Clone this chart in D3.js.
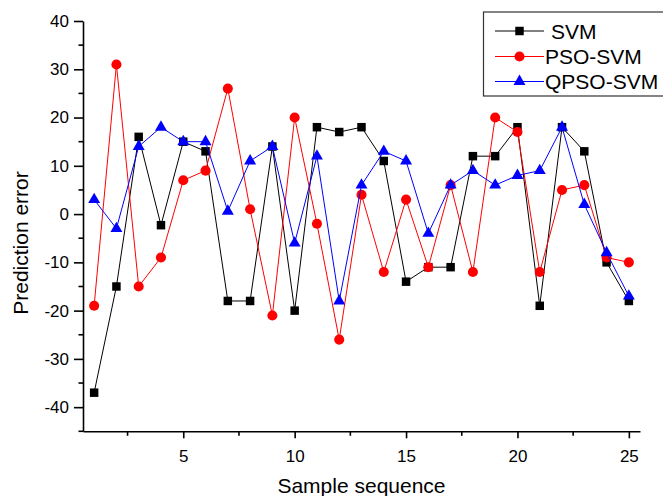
<!DOCTYPE html>
<html>
<head>
<meta charset="utf-8">
<script src="https://cdn.jsdelivr.net/npm/d3@7"></script>
<style>
    body { margin: 0; background: #fff; }
    svg { display: block; font-family: Arial, "Liberation Sans", sans-serif; }
</style>
</head>
<body>
<div id="chart"></div>
<script>
// chart values
const samples = d3.range(1, 26);
const svm = [-37, -15, 16, -2.3, 15, 13, -18, -18, 14, -20, 18, 17, 18, 11, -14, -11, -11, 12, 12, 18, -19, 18, 13, -10, -18];
const psoSvm = [-19, 31, -15, -9, 7, 9, 26, 1, -21, 20, -2, -26, 4, -12, 3, -11, 6, -12, 20, 17, -12, 5, 6, -9, -10];
const qpsoSvm = [3, -3, 14, 18, 15, 15, 0.6, 11, 14, -6, 12, -18, 6, 13, 11, -4, 6, 9, 6, 8, 9, 18, 2, -8, -17];
const yTicks = [-40, -30, -20, -10, 0, 10, 20, 30, 40];
const yMinor = [-45, -35, -25, -15, -5, 5, 15, 25, 35];
const xTicks = [5, 10, 15, 20, 25];
const xMinor = [2.5, 7.5, 12.5, 17.5, 22.5];

const series = [
    {name: "SVM", values: svm, color: "#000000", symbol: d3.symbolSquare, size: 72},
    {name: "PSO-SVM", values: psoSvm, color: "#ff0000", symbol: d3.symbolCircle, size: 80},
    {name: "QPSO-SVM", values: qpsoSvm, color: "#0000ff", symbol: d3.symbolTriangle, size: 62}
];

const width = 663;
const height = 496;

const x = d3.scaleLinear().domain([0.5, 25.5]).range([83, 640]);
const y = d3.scaleLinear().domain([-45, 40]).range([431.3, 21]);

const svg = d3.select("#chart").append("svg")
    .attr("width", width)
    .attr("height", height);

// axes: left and bottom only, ticks pointing out, plain hyphen minus
const yAxis = svg.append("g")
    .attr("transform", `translate(${x.range()[0]},0)`)
    .call(d3.axisLeft(y).tickValues(yTicks).tickFormat(d => String(d))
        .tickSize(9).tickPadding(5).tickSizeOuter(0));
yAxis.append("g")
    .selectAll("line")
    .data(yMinor)
    .join("line")
    .attr("x1", -4.5).attr("x2", 0)
    .attr("y1", d => y(d)).attr("y2", d => y(d));

const xAxis = svg.append("g")
    .attr("transform", `translate(0,${y.range()[0]})`)
    .call(d3.axisBottom(x).tickValues(xTicks).tickFormat(d => String(d))
        .tickSize(7).tickPadding(12).tickSizeOuter(0));
xAxis.append("g")
    .selectAll("line")
    .data(xMinor)
    .join("line")
    .attr("y1", 0).attr("y2", 4.5)
    .attr("x1", d => x(d)).attr("x2", d => x(d));

svg.selectAll(".domain, .tick line, g > g > line")
    .attr("stroke", "#000")
    .attr("stroke-width", 1.6);
svg.selectAll(".tick text")
    .attr("fill", "#000")
    .style("font-size", "17px");

// axis titles
svg.append("text")
    .attr("x", x(13))
    .attr("y", 493)
    .attr("text-anchor", "middle")
    .style("font-size", "21px")
    .text("Sample sequence");

svg.append("text")
    .attr("transform", "translate(28,243) rotate(-90)")
    .attr("text-anchor", "middle")
    .style("font-size", "21px")
    .text("Prediction error");

const line = d3.line()
    .x((d, i) => x(samples[i]))
    .y(d => y(d));

const plot = svg.append("g");
series.forEach(s => {
    const g = plot.append("g");
    g.append("path")
        .datum(s.values)
        .attr("fill", "none")
        .attr("stroke", s.color)
        .attr("stroke-width", 1)
        .attr("d", line);
    g.selectAll("path.marker")
        .data(s.values)
        .join("path")
        .attr("class", "marker")
        .attr("transform", (d, i) => `translate(${x(samples[i])},${y(d)})`)
        .attr("fill", s.color)
        .attr("d", d3.symbol(s.symbol, s.size));
});

// legend
const legend = svg.append("g");
legend.append("rect")
    .attr("x", 483.5).attr("y", 12)
    .attr("width", 190).attr("height", 84)
    .attr("fill", "#fff")
    .attr("stroke", "#333")
    .attr("stroke-width", 1.2);

const rowY = [31, 56.5, 81.5];
const textX = [551, 545, 545];
series.forEach((s, i) => {
    const row = legend.append("g").attr("transform", `translate(0,${rowY[i]})`);
    row.append("line")
        .attr("x1", 495).attr("x2", 544)
        .attr("stroke", s.color)
        .attr("stroke-width", 1);
    row.append("path")
        .attr("transform", "translate(519.5,0)")
        .attr("fill", s.color)
        .attr("d", d3.symbol(s.symbol, s.size));
    row.append("text")
        .attr("x", textX[i])
        .attr("y", 7.5)
        .style("font-size", "21px")
        .text(s.name);
});
</script>
</body>
</html>
